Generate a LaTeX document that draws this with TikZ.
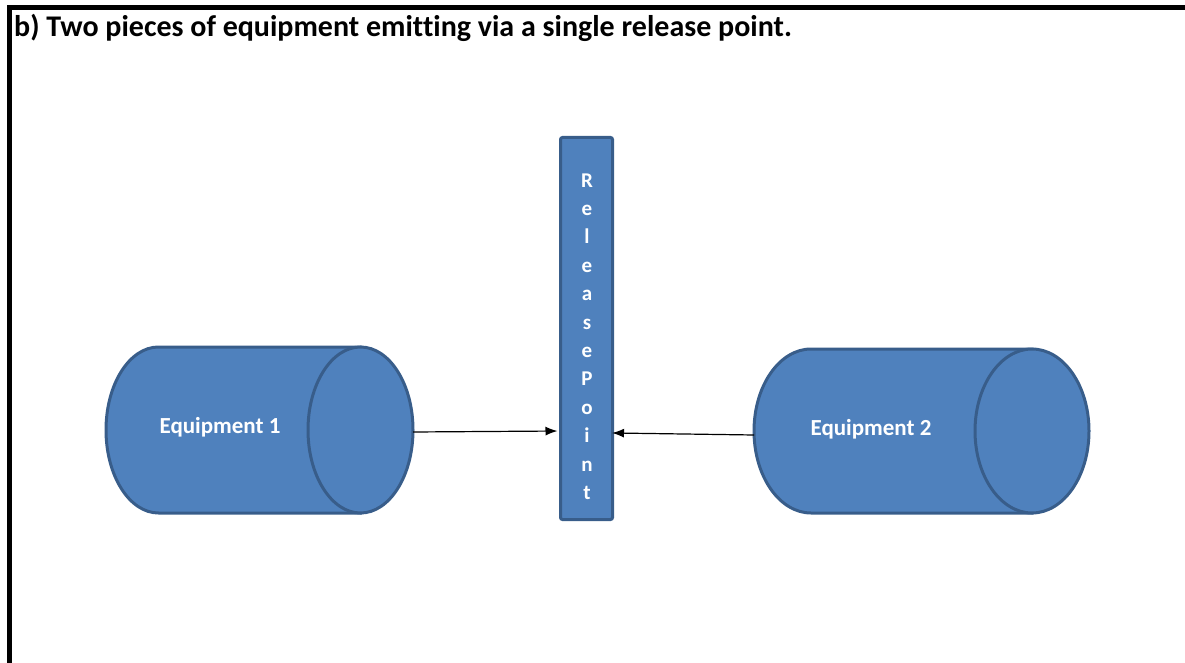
\documentclass[tikz,border=0pt]{standalone}
\usepackage{fontspec}
\setmainfont[Ligatures=NoCommon]{Carlito}
\usetikzlibrary{arrows.meta}
\definecolor{eqfill}{HTML}{4F81BD}
\definecolor{eqline}{HTML}{385D8A}
\begin{document}
\begin{tikzpicture}[x=1pt,y=-1pt,
  cyl/.style={fill=eqfill,draw=eqline,line width=3pt},
  eqtext/.style={text=white,anchor=base,font=\fontsize{23}{27}\selectfont\bfseries},
  lettext/.style={text=white,anchor=base,inner sep=0pt,font=\fontsize{21}{25}\selectfont\bfseries},
  arr/.style={line width=1.2pt,-{Latex[length=12pt,width=9pt]}},
  frame/.style={line width=5pt,line join=miter}]
\useasboundingbox (0,0) rectangle (1185,663);

% outer frame
\draw[frame] (9.8,663) -- (9.8,7.5) -- (1185,7.5);

% caption
\node[anchor=base west,inner sep=0pt,font=\fontsize{30}{34}\selectfont\bfseries] (title) at (14,36.5)
  {b) Two pieces of equipment emitting via a single release point.};

% equipment 1
\path[cyl] (360.5,347) -- (158.5,347) arc[start angle=270, end angle=90, x radius=52.5, y radius=83] -- (360.5,513) -- cycle;
\draw[cyl] (360.5,430) ellipse[x radius=52.5, y radius=83];
\node[eqtext] (eq1) at (220,433) {Equipment 1};
\coordinate (eq1out) at (413,432);

% equipment 2
\path[cyl] (1032,349) -- (811,349) arc[start angle=270, end angle=90, x radius=57, y radius=82] -- (1032,513) -- cycle;
\draw[cyl] (1032,431) ellipse[x radius=57, y radius=82];
\node[eqtext] (eq2) at (871,435) {Equipment 2};
\coordinate (eq2out) at (754,435);

% release point
\node[draw=eqline,fill=eqfill,line width=3pt,rounded corners=2pt,inner sep=0pt,
      minimum width=52pt,minimum height=382pt] (rp) at (586.5,328.5) {};
\foreach \ch [count=\i from 0] in {R,e,l,e,a,s,e,P,o,i,n,t}
  \node[lettext] (rp\i) at (587,{187+28.4*\i}) {\ch};

% flows into the release point
\coordinate (rpin1) at (rp.west |- 0,431);
\coordinate (rpin2) at (rp.east |- 0,433);
\draw[arr,shorten >=1.5pt] (eq1out) -- (rpin1);
\draw[arr,shorten >=-2pt] (eq2out) -- (rpin2);
\end{tikzpicture}
\end{document}
